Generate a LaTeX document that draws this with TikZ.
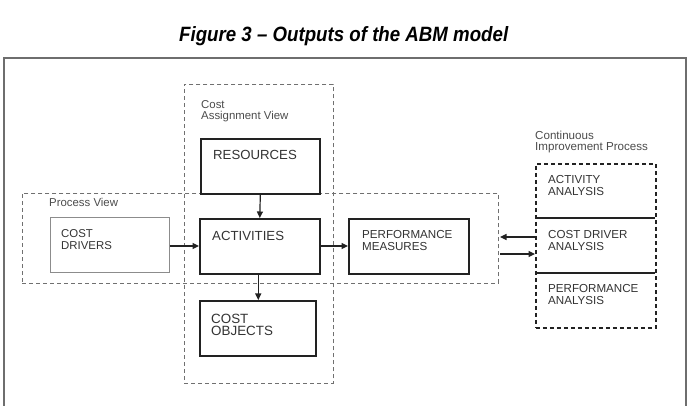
\documentclass[tikz,border=0pt]{standalone}
\usepackage{fontspec}
\setmainfont{Liberation Sans}
\usetikzlibrary{arrows.meta}
\definecolor{txt}{HTML}{333333}
\definecolor{frame}{HTML}{6E6E6E}
\definecolor{dash}{HTML}{707070}
\definecolor{edge}{HTML}{222222}
\tikzset{
  x=1pt, y=-1pt,
  thickbox/.style={draw=edge, line width=1.6pt, inner sep=0pt, anchor=north west},
  thinbox/.style={draw=gray!90, line width=0.9pt, inner sep=0pt, anchor=north west},
  viewbox/.style={draw=dash, line width=0.9pt, dash pattern=on 4pt off 3pt, inner sep=0pt, anchor=north west},
  cipbox/.style={draw=edge, line width=1.6pt, dash pattern=on 4pt off 3pt, inner sep=0pt, anchor=north west},
  lbl/.style={inner sep=0pt, anchor=base west, align=left, text=txt, font=\fontsize{11.6}{12}\selectfont},
  biglbl/.style={lbl, font=\fontsize{13.2}{13}\selectfont},
  viewlbl/.style={lbl, text=black!70, font=\fontsize{11.4}{11.5}\selectfont},
  arr/.style={draw=edge, line width=1.2pt, -{Triangle[length=6.5pt,width=6pt]}},
}
\begin{document}
\begin{tikzpicture}
\useasboundingbox (0,0) rectangle (694,406);
\fill[white] (0,0) rectangle (694,406);
% title
\node[inner sep=0pt, anchor=base west] (title) at (179,42)
  {\resizebox{329pt}{15pt}{\bfseries\itshape Figure 3 – Outputs of the ABM model}};
% outer frame
\coordinate (fbl) at (4,410);
\coordinate (ftl) at (4,58);
\coordinate (ftr) at (686,58);
\coordinate (fbr) at (686,410);
\draw[frame, line width=1.8pt] (fbl) -- (ftl) -- (ftr) -- (fbr);
% view boxes
\node[viewbox, minimum width=149pt, minimum height=299pt] (cav) at (184,84) {};
\node[viewbox, minimum width=476pt, minimum height=90pt] (pv) at (22,193) {};
\node[viewlbl] (cavl) at (201,120) {Cost\\Assignment View};
\node[viewlbl] (pvl) at (49,207) {Process View};
% boxes
\node[thickbox, minimum width=119pt, minimum height=55pt] (res) at (200,138) {};
\node[thickbox, minimum width=120pt, minimum height=55pt] (act) at (199,218) {};
\node[thickbox, minimum width=116pt, minimum height=55pt] (obj) at (199,300) {};
\node[thickbox, minimum width=120pt, minimum height=55pt] (perf) at (348,218) {};
\node[thinbox, minimum width=119pt, minimum height=55pt] (drv) at (50,217) {};
\node[biglbl] (resl) at (213,160) {RESOURCES};
\node[biglbl] (actl) at (212,241) {ACTIVITIES};
\node[biglbl, font=\fontsize{13.4}{13}\selectfont] (objl) at (211,336) {COST\\OBJECTS};
\node[lbl] (perfl) at (362,250.5) {PERFORMANCE\\MEASURES};
\node[lbl, font=\fontsize{11.4}{12.5}\selectfont] (drvl) at (61,250) {COST\\DRIVERS};
% continuous improvement
\node[viewlbl, font=\fontsize{11.6}{11.5}\selectfont] (cipl) at (535,151) {Continuous\\Improvement Process};
\node[cipbox, minimum width=120pt, minimum height=164pt] (cip) at (535,163) {};
\coordinate (d1l) at (535,218);
\coordinate (d1r) at (655,218);
\coordinate (d2l) at (535,273);
\coordinate (d2r) at (655,273);
\draw[edge, line width=1.6pt] (d1l) -- (d1r);
\draw[edge, line width=1.6pt] (d2l) -- (d2r);
\node[lbl] (aal) at (548,195.5) {ACTIVITY\\ANALYSIS};
\node[lbl] (cdal) at (548,250.5) {COST DRIVER\\ANALYSIS};
\node[lbl] (pal) at (548,304.5) {PERFORMANCE\\ANALYSIS};
% arrows
\draw[arr] (drv.east |- 0,246) -- (act.west |- 0,246);
\draw[arr] (act.east |- 0,246) -- (perf.west |- 0,246);
\draw[arr] (res.south) -- (act.north);
\draw[arr] ([xshift=-1.5pt]act.south) -- ([xshift=-1.5pt]act.south |- obj.north);
\coordinate (ina) at (500,237);
\coordinate (inb) at (500,254);
\draw[arr] (cip.west |- ina) -- (ina);
\draw[arr] (inb) -- (cip.west |- inb);
\end{tikzpicture}
\end{document}
